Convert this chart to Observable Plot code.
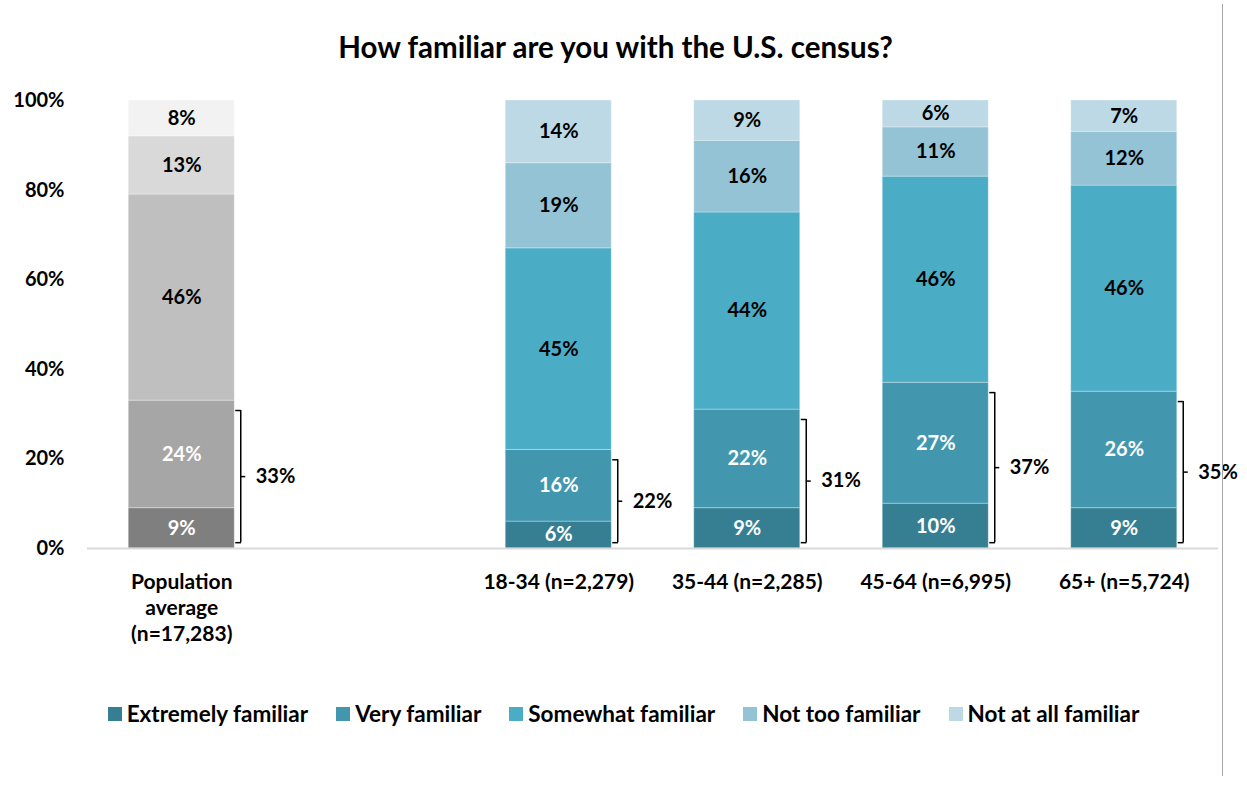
<!DOCTYPE html>
<html>
<head>
<meta charset="utf-8">
<script src="https://cdn.jsdelivr.net/npm/d3@7"></script>
<script src="https://cdn.jsdelivr.net/npm/@observablehq/plot@0.6"></script>
<style>
  html, body { margin: 0; padding: 0; background: #fff; }
  body { width: 1247px; height: 792px; position: relative; overflow: hidden; font-family: Lato, "Open Sans", sans-serif; color: #000; }
  #title { position: absolute; left: 0; top: 28px; width: 1231px; text-align: center; font-weight: bold; font-size: 29.5px; line-height: 38px; }
  #chart { position: absolute; left: 0; top: 80px; }
  #legend { position: absolute; left: 0; top: 700px; width: 1247px; display: flex; justify-content: center; gap: 28px; font-weight: bold; font-size: 22.5px; line-height: 28px; }
  #legend .item { display: flex; align-items: center; gap: 5px; }
  #legend .sw { width: 14px; height: 14px; display: inline-block; }
  #vline { position: absolute; left: 1222px; top: 4px; width: 1px; height: 772px; background: #a6a6a6; }
</style>
</head>
<body>
<div id="title">How familiar are you with the U.S. census?</div>
<div id="chart"></div>
<div id="legend"></div>
<div id="vline"></div>
<script>
// ---- data ----
const levels = ["Extremely familiar", "Very familiar", "Somewhat familiar", "Not too familiar", "Not at all familiar"];
const groups = ["Population\naverage\n(n=17,283)", "18-34 (n=2,279)", "35-44 (n=2,285)", "45-64 (n=6,995)", "65+ (n=5,724)"];
const extremely = [9, 6, 9, 10, 9];
const very      = [24, 16, 22, 27, 26];
const somewhat  = [46, 45, 44, 46, 46];
const notToo    = [13, 19, 16, 11, 12];
const notAtAll  = [8, 14, 9, 6, 7];
const combined  = [33, 22, 31, 37, 35];
const yTicks = [0, 20, 40, 60, 80, 100];

const tealColors = ["#367f93", "#4297af", "#4bacc6", "#93c3d5", "#bcd9e5"];
const greyColors = ["#7f7f7f", "#a6a6a6", "#bfbfbf", "#d9d9d9", "#f2f2f2"];
const textColors = ["#fff", "#fff", "#000", "#000", "#000"];

// ---- build table ----
const series = [extremely, very, somewhat, notToo, notAtAll];
// slot: first group alone, then a gap, then the age groups
const slotOf = i => (i === 0 ? 0 : i + 1);
const rows = [];
groups.forEach((g, i) => {
  let acc = 0;
  series.forEach((s, k) => {
    const v = s[i];
    rows.push({group: g, slot: slotOf(i), level: levels[k], k, value: v, y1: acc, y2: acc + v, mid: acc + v / 2,
               fill: i === 0 ? greyColors[k] : tealColors[k], color: textColors[k]});
    acc += v;
  });
});

const W = 1247, H = 580, ML = 87, MR = 29, MT = 20, MB = 112;
const unit = 1 / ((W - ML - MR) / 6); // data units per pixel on x
const half = 53 * unit;
const bx = 59 * unit;

const brackets = groups.map((g, i) => {
  const top = extremely[i] + very[i] - 2.2;
  const bot = 1.3;
  return {slot: slotOf(i), top, bot, mid: (top + bot) / 2, label: combined[i] + "%"};
});

const FONT = "Lato, 'Open Sans', sans-serif";
const plot = Plot.plot({
  width: W, height: H,
  marginLeft: ML, marginRight: MR, marginTop: MT, marginBottom: MB,
  style: {fontFamily: FONT, fontSize: "20px", fontWeight: "bold", color: "#000", background: "#fff"},
  x: {domain: [-0.5, 5.5], axis: null},
  y: {domain: [0, 100], axis: null},
  marks: [
    Plot.axisY({ticks: yTicks, tickFormat: d => d + "%", tickSize: 0, tickPadding: 23, fontSize: 20, fontWeight: "bold", label: null, fill: "#000"}),
    Plot.rect(rows, {x1: d => d.slot - half, x2: d => d.slot + half, y1: "y1", y2: "y2", fill: "fill", stroke: "#fff", strokeOpacity: 0.3, strokeWidth: 1}),
    Plot.ruleY([0], {x1: -0.5, x2: 5.5, stroke: "#d9d9d9", strokeWidth: 2}),
    Plot.text(rows, {x: "slot", y: "mid", text: d => d.value + "%", fill: "color", fontSize: 20, fontWeight: "bold"}),
    // brackets
    Plot.ruleX(brackets, {x: d => d.slot + bx, y1: "bot", y2: "top", stroke: "#000", strokeWidth: 1.5}),
    Plot.ruleY(brackets, {y: "top", x1: d => d.slot + bx - 5 * unit, x2: d => d.slot + bx + 0.7 * unit, stroke: "#000", strokeWidth: 1.5}),
    Plot.ruleY(brackets, {y: "bot", x1: d => d.slot + bx - 5 * unit, x2: d => d.slot + bx + 0.7 * unit, stroke: "#000", strokeWidth: 1.5}),
    Plot.ruleY(brackets, {y: "mid", x1: d => d.slot + bx, x2: d => d.slot + bx + 5 * unit, stroke: "#000", strokeWidth: 1.5}),
    Plot.text(brackets, {x: d => d.slot + bx + 15 * unit, y: "mid", text: "label", textAnchor: "start", fill: "#000", fontSize: 20, fontWeight: "bold"}),
    // category labels
    Plot.text(groups, {x: (d, i) => slotOf(i), y: 0, text: d => d, dy: 22, lineAnchor: "top", lineHeight: 1.24, fill: "#000", fontSize: 21, fontWeight: "bold"})
  ]
});
document.getElementById("chart").appendChild(plot);

// legend
const legend = document.getElementById("legend");
levels.forEach((l, k) => {
  const it = document.createElement("div");
  it.className = "item";
  const sw = document.createElement("span");
  sw.className = "sw";
  sw.style.background = tealColors[k];
  const tx = document.createElement("span");
  tx.textContent = l;
  it.appendChild(sw); it.appendChild(tx);
  legend.appendChild(it);
});
</script>
</body>
</html>
